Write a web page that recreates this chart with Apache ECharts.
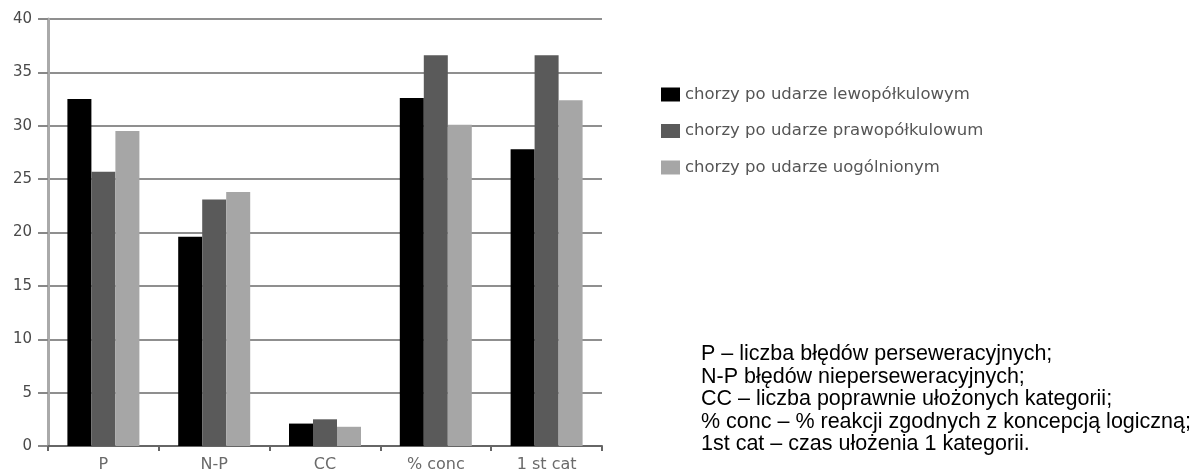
<!DOCTYPE html>
<html>
<head>
<meta charset="utf-8">
<script src="https://cdn.jsdelivr.net/npm/echarts@6/dist/echarts.min.js"></script>
<style>
  html, body { margin: 0; padding: 0; background: #fff; }
  #chart { width: 1191px; height: 476px; }
</style>
</head>
<body>
<div id="chart"></div>
<script>
// Wisconsin card sorting measures by patient group
const categories = ['P', 'N-P', 'CC', '% conc', '1 st cat'];
const seriesNames = [
  'chorzy po udarze lewopółkulowym',
  'chorzy po udarze prawopółkulowum',
  'chorzy po udarze uogólnionym'
];
const leftHemisphere = [32.5, 19.6, 2.1, 32.6, 27.8];
const rightHemisphere = [25.7, 23.1, 2.5, 36.6, 36.6];
const generalized = [29.5, 23.8, 1.8, 30.1, 32.4];
const yTicks = { min: 0, max: 40, interval: 5 };
const notes = [
  'P – liczba błędów perseweracyjnych;',
  'N-P błędów niepersewera' + 'cyjnych;',
  'CC – liczba poprawnie ułożonych kategorii;',
  '% conc – % reakcji zgodnych z koncepcją logiczną;',
  '1st cat – czas ułożenia 1 kategorii.'
];

const colors = ['#000000', '#5a5a5a', '#a6a6a6'];
const values = [leftHemisphere, rightHemisphere, generalized];

const chart = echarts.init(document.getElementById('chart'), null, { renderer: 'canvas' });

chart.setOption({
  animation: false,
  backgroundColor: '#ffffff',
  grid: { left: 48, right: 589, top: 19, bottom: 30, containLabel: false },
  legend: {
    orient: 'vertical',
    left: 656,
    top: 81,
    itemWidth: 19,
    itemHeight: 14,
    itemGap: 19.5,
    icon: 'rect',
    textStyle: { fontFamily: 'DejaVu Sans', fontSize: 16.5, color: '#555' },
    data: seriesNames
  },
  xAxis: {
    type: 'category',
    data: categories,
    axisLine: { lineStyle: { color: '#666', width: 2 } },
    axisTick: { show: true, length: 5, lineStyle: { color: '#666', width: 2 } },
    axisLabel: { margin: 11, fontFamily: 'DejaVu Sans', fontSize: 16, color: '#6a6a6a' }
  },
  yAxis: {
    type: 'value',
    min: yTicks.min,
    max: yTicks.max,
    interval: yTicks.interval,
    axisLine: { show: true, lineStyle: { color: '#aaaaaa', width: 3 } },
    axisTick: { show: true, length: 10, lineStyle: { color: '#888', width: 2 } },
    axisLabel: { margin: 16, fontFamily: 'DejaVu Sans', fontSize: 15, color: '#4a4a4a' },
    splitLine: { show: true, lineStyle: { color: '#8f8f8f', width: 2 } }
  },
  series: values.map((v, i) => ({
    name: seriesNames[i],
    type: 'bar',
    data: v,
    barWidth: 24,
    barGap: '0%',
    itemStyle: { color: colors[i] }
  })),
  graphic: [{
    type: 'text',
    left: 701,
    top: 343,
    style: {
      text: notes.join('\n'),
      fontFamily: 'Liberation Sans',
      fontSize: 21.5,
      lineHeight: 22.5,
      fill: '#000'
    }
  }]
});
</script>
</body>
</html>
